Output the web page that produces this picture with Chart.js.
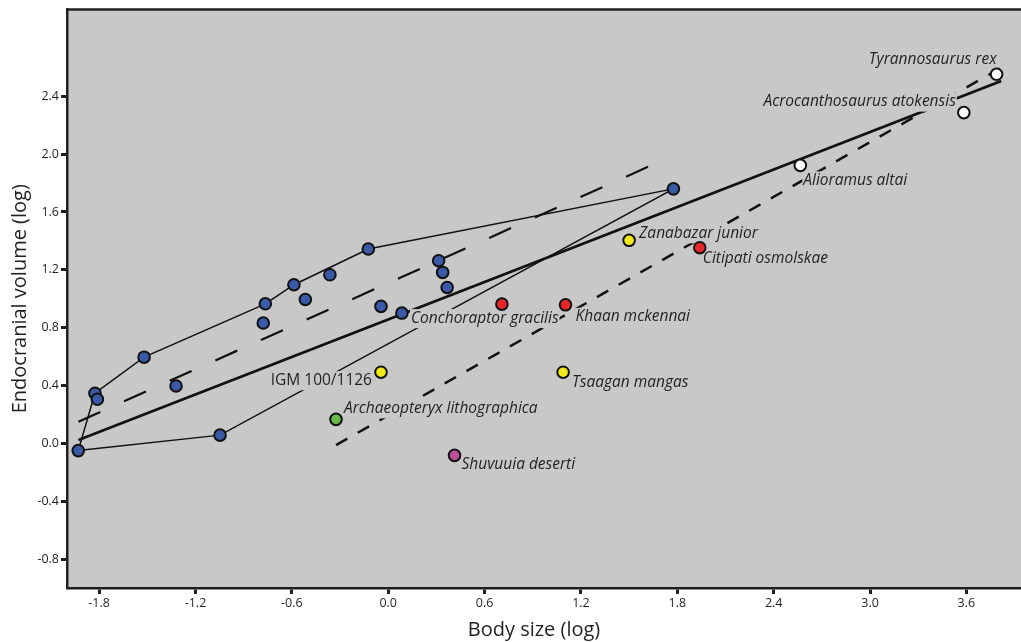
<!DOCTYPE html>
<html>
<head>
<meta charset="utf-8">
<script src="https://cdn.jsdelivr.net/npm/chart.js@4.4.1/dist/chart.umd.min.js"></script>
<style>
  html, body { margin: 0; padding: 0; background: #fff; }
  #wrap { width: 1021px; height: 642px; }
</style>
</head>
<body>
<div id="wrap"><canvas id="chart"></canvas></div>
<script>
/* DATA */
const xTicks = [-1.8, -1.2, -0.6, 0.0, 0.6, 1.2, 1.8, 2.4, 3.0, 3.6];
const yTicks = [-0.8, -0.4, 0.0, 0.4, 0.8, 1.2, 1.6, 2.0, 2.4];

// blue group (unlabelled)
const blueX = [-1.93, -1.826, -1.811, -1.52, -1.321, -1.047, -0.778, -0.765, -0.587, -0.516, -0.363, -0.124, -0.045, 0.085, 0.314, 0.339, 0.367, 1.776];
const blueY = [-0.05, 0.347, 0.305, 0.596, 0.397, 0.057, 0.832, 0.965, 1.097, 0.995, 1.166, 1.344, 0.947, 0.901, 1.263, 1.182, 1.078, 1.76];
// outline around the blue group, as indexes into blueX/blueY
const hullIdx = [0, 5, 17, 11, 8, 7, 3, 1, 0];

const redNames = ["Conchoraptor gracilis", "Khaan mckennai", "Citipati osmolskae"];
const redX = [0.708, 1.104, 1.94];
const redY = [0.963, 0.958, 1.353];

const yellowNames = ["IGM 100/1126", "Tsaagan mangas", "Zanabazar junior"];
const yellowX = [-0.045, 1.089, 1.5];
const yellowY = [0.492, 0.492, 1.404];

const greenNames = ["Archaeopteryx lithographica"];
const greenX = [-0.325];
const greenY = [0.166];

const pinkNames = ["Shuvuuia deserti"];
const pinkX = [0.413];
const pinkY = [-0.083];

const whiteNames = ["Alioramus altai", "Acrocanthosaurus atokensis", "Tyrannosaurus rex"];
const whiteX = [2.566, 3.584, 3.788];
const whiteY = [1.922, 2.287, 2.552];

// regression lines
const solidX = [-1.929, 3.817];
const solidY = [0.023, 2.506];
const longDashX = [-1.929, 1.674];
const longDashY = [0.15, 1.94];
const shortDashX = [-0.325, 3.862];
const shortDashY = [-0.012, 2.626];

const pts = (xs, ys) => xs.map((x, i) => ({ x: x, y: ys[i] }));

/* label placement: offset from the point in px, text alignment, upright */
const labelStyle = {
    "Conchoraptor gracilis": [-91, 14, "left"],
    "Khaan mckennai": [10, 12, "left"],
    "Citipati osmolskae": [3, 11, "left"],
    "IGM 100/1126": [-9, 8, "right", true],
    "Tsaagan mangas": [9, 10, "left"],
    "Zanabazar junior": [10, -7, "left"],
    "Archaeopteryx lithographica": [8, -11, "left"],
    "Shuvuuia deserti": [7, 9, "left"],
    "Alioramus altai": [3, 15, "left"],
    "Acrocanthosaurus atokensis": [-8, -11, "right"],
    "Tyrannosaurus rex": [0, -15, "right"]
};
const labelled = [
    [redNames, redX, redY], [yellowNames, yellowX, yellowY], [greenNames, greenX, greenY],
    [pinkNames, pinkX, pinkY], [whiteNames, whiteX, whiteY]
];

const BG = "#c8c8c8";
const INK = "#231f20";

const plotBg = {
    id: "plotBg",
    beforeDraw(chart) {
        const { ctx, chartArea: a } = chart;
        ctx.save();
        ctx.fillStyle = "#fff";
        ctx.fillRect(0, 0, chart.width, chart.height);
        ctx.fillStyle = BG;
        ctx.fillRect(a.left, a.top, a.right - a.left, a.bottom - a.top);
        ctx.restore();
    },
    afterDraw(chart) {
        const { ctx, chartArea: a } = chart;
        ctx.save();
        ctx.strokeStyle = INK;
        ctx.lineWidth = 2.5;
        ctx.beginPath();
        ctx.moveTo(a.left - 1, a.top);
        ctx.lineTo(a.right, a.top);
        ctx.stroke();
        // x axis title, set a little left of the plot centre as in the source figure
        ctx.fillStyle = INK;
        ctx.font = "20px 'Open Sans'";
        ctx.textAlign = "center";
        ctx.textBaseline = "middle";
        ctx.fillText("Body size (log)", (a.left + a.right) / 2 - 10, chart.height - 12);
        ctx.restore();
    }
};

// labels go on after the lines but before the dots
const LAST_LINE = 6;
const speciesLabels = {
    id: "speciesLabels",
    afterDatasetDraw(chart, args) {
        if (args.index !== LAST_LINE) return;
        const { ctx, scales } = chart;
        ctx.save();
        ctx.textBaseline = "middle";
        labelled.forEach(([names, xs, ys]) => {
            names.forEach((name, i) => {
                const [dx, dy, align, upright] = labelStyle[name];
                const px = scales.x.getPixelForValue(xs[i]) + dx;
                const py = scales.y.getPixelForValue(ys[i]) + dy;
                ctx.font = (upright ? "" : "italic ") + "15.5px 'Open Sans'";
                const w = ctx.measureText(name).width;
                const left = align === "right" ? px - w : px;
                ctx.fillStyle = BG;
                ctx.fillRect(left - 1, py - 9, w + 2, 19);
                ctx.fillStyle = INK;
                ctx.textAlign = "left";
                ctx.fillText(name, left, py);
            });
        });
        ctx.restore();
    }
};

const dot = (label, xs, ys, color) => ({
    label: label,
    data: pts(xs, ys),
    backgroundColor: color,
    borderColor: "#111",
    borderWidth: 2,
    pointRadius: 5.8,
    order: 1
});

const line = (label, xs, ys, width, dash) => ({
    label: label,
    data: pts(xs, ys),
    showLine: true,
    borderColor: "#111",
    borderWidth: width,
    borderDash: dash,
    pointRadius: 0,
    fill: false,
    order: 2
});

const axisGrid = { drawOnChartArea: false, drawTicks: true, tickLength: 6, tickWidth: 3, tickColor: INK };
const tickFont = { family: "Open Sans", size: 12.5 };

new Chart(document.getElementById("chart"), {
    type: "scatter",
    data: {
        datasets: [
            dot("blue", blueX, blueY, "#3a5aa8"),
            dot("red", redX, redY, "#e8262a"),
            dot("yellow", yellowX, yellowY, "#f3ea1c"),
            dot("green", greenX, greenY, "#6ab845"),
            dot("pink", pinkX, pinkY, "#bb4f9c"),
            dot("white", whiteX, whiteY, "#ffffff"),
            line("outline", hullIdx.map(i => blueX[i]), hullIdx.map(i => blueY[i]), 1.5, []),
            line("solid", solidX, solidY, 2.8, []),
            line("long dash", longDashX, longDashY, 2.2, [24, 26]),
            line("short dash", shortDashX, shortDashY, 2.5, [13, 12])
        ]
    },
    options: {
        responsive: true,
        maintainAspectRatio: false,
        animation: false,
        layout: { autoPadding: false, padding: { top: 9, right: 0, left: 0, bottom: 0 } },
        plugins: { legend: { display: false }, tooltip: { enabled: false } },
        scales: {
            x: {
                type: "linear",
                min: -2.0,
                max: 3.94,
                afterBuildTicks: s => { s.ticks = xTicks.map(v => ({ value: v })); },
                afterFit: s => { s.height = 54; },
                grid: axisGrid,
                border: { display: true, color: INK, width: 2.5 },
                ticks: { color: INK, padding: 2, font: tickFont, callback: v => v.toFixed(1) },
                title: { display: false }
            },
            y: {
                type: "linear",
                min: -1.0,
                max: 3.0,
                afterBuildTicks: s => { s.ticks = yTicks.map(v => ({ value: v })); },
                afterFit: s => { s.width = 67; },
                grid: axisGrid,
                border: { display: true, color: INK, width: 2.5 },
                ticks: { color: INK, padding: 2, font: tickFont, callback: v => v.toFixed(1) },
                title: { display: true, text: "Endocranial volume (log)", color: INK, font: { family: "Open Sans", size: 20 }, padding: { top: 8, bottom: 0 } }
            }
        }
    },
    plugins: [plotBg, speciesLabels]
});
</script>
</body>
</html>
